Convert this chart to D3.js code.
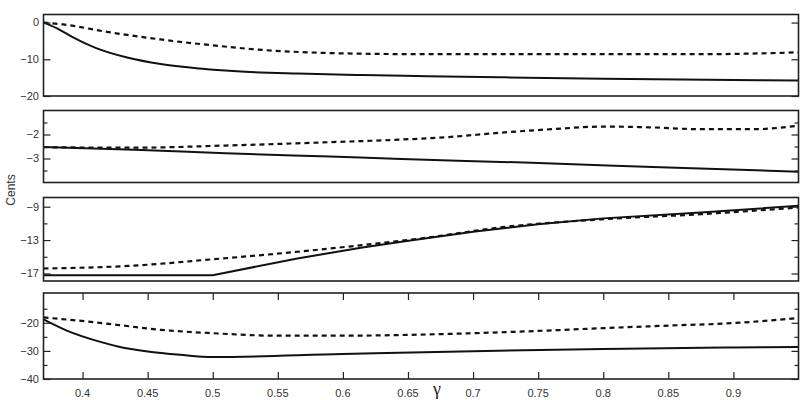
<!DOCTYPE html>
<html><head><meta charset="utf-8">
<script src="https://cdn.jsdelivr.net/npm/d3@7/dist/d3.min.js"></script>
<style>body{margin:0;background:#fff;} svg{display:block;}</style>
</head><body>
<svg id="c" width="808" height="417"></svg>
<script>
// ---- data ----
const xTicks = [0.4,0.45,0.5,0.55,0.6,0.65,0.7,0.75,0.8,0.85,0.9];
const xTickLabels = ["0.4","0.45","0.5","0.55","0.6","0.65","0.7","0.75","0.8","0.85","0.9"];

const p1SolidX = [0.37,0.38,0.392,0.41,0.435,0.46,0.49,0.525,0.565,0.615,0.665,0.72,0.8,0.88,0.95];
const p1SolidY = [0,-1.5,-3.9,-6.9,-9.6,-11.3,-12.5,-13.4,-13.9,-14.3,-14.6,-14.9,-15.3,-15.6,-15.8];
const p1DashX = [0.37,0.385,0.42,0.46,0.5,0.54,0.58,0.62,0.66,0.72,0.8,0.88,0.92,0.95];
const p1DashY = [0,-0.5,-2.6,-4.6,-6.2,-7.5,-8.2,-8.5,-8.6,-8.6,-8.6,-8.6,-8.4,-8.1];

const p2SolidX = [0.37,0.44,0.51,0.59,0.645,0.745,0.85,0.95];
const p2SolidY = [-2.52,-2.64,-2.78,-2.92,-3.02,-3.18,-3.38,-3.55];
const p2DashX = [0.37,0.44,0.51,0.59,0.645,0.68,0.72,0.76,0.8,0.835,0.875,0.915,0.95];
const p2DashY = [-2.53,-2.55,-2.46,-2.32,-2.21,-2.11,-1.93,-1.78,-1.67,-1.70,-1.78,-1.78,-1.63];

const p3SolidX = [0.37,0.5,0.565,0.615,0.645,0.7,0.75,0.8,0.875,0.95];
const p3SolidY = [-17.2,-17.2,-15.2,-13.9,-13.2,-12.0,-11.1,-10.4,-9.7,-8.9];
const p3DashX = [0.37,0.435,0.5,0.565,0.615,0.665,0.72,0.8,0.875,0.95];
const p3DashY = [-16.4,-16.1,-15.3,-14.4,-13.6,-12.7,-11.5,-10.5,-9.9,-9.1];

const p4SolidX = [0.37,0.387,0.413,0.428,0.45,0.475,0.5,0.6,0.7,0.8,0.9,0.95];
const p4SolidY = [-18.8,-22.6,-26.7,-28.5,-30.2,-31.4,-32.2,-31.1,-30.1,-29.3,-28.8,-28.6];
const p4DashX = [0.37,0.413,0.428,0.46,0.5,0.55,0.6,0.65,0.7,0.75,0.8,0.85,0.9,0.95];
const p4DashY = [-18.1,-20,-20.8,-22.5,-23.7,-24.6,-24.6,-24.3,-23.7,-22.9,-21.9,-21,-20.1,-18.3];

const p1Major = [0,-10,-20], p1Labels = ["0","\u221210","\u221220"], p1Minor = [];
const p2Major = [-2,-3], p2Labels = ["\u22122","\u22123"], p2Minor = [-1.5,-2.5,-3.5];
const p3Major = [-9,-13,-17], p3Labels = ["\u22129","\u221213","\u221217"], p3Minor = [-11,-15];
const p4Major = [-20,-30,-40], p4Labels = ["\u221220","\u221230","\u221240"], p4Minor = [-15,-25,-35];

const p1Domain = [-20, 2.2], p2Domain = [-4, -1], p3Domain = [-17.9, -7.9], p4Domain = [-40, -9.4];

// ---- layout ----
const svg = d3.select("#c");
const L = 43.5, R = 798.5;
const x = d3.scaleLinear().domain([0.37, 0.95]).range([L, R]);
const panels = [
  {top:14.5, bot:96, dom:p1Domain, major:p1Major, labels:p1Labels, minor:p1Minor, s:[p1SolidX,p1SolidY], d:[p1DashX,p1DashY], xt:false},
  {top:110.5, bot:182.5, dom:p2Domain, major:p2Major, labels:p2Labels, minor:p2Minor, s:[p2SolidX,p2SolidY], d:[p2DashX,p2DashY], xt:false},
  {top:197.5, bot:281, dom:p3Domain, major:p3Major, labels:p3Labels, minor:p3Minor, s:[p3SolidX,p3SolidY], d:[p3DashX,p3DashY], xt:false, linS:true},
  {top:293, bot:379, dom:p4Domain, major:p4Major, labels:p4Labels, minor:p4Minor, s:[p4SolidX,p4SolidY], d:[p4DashX,p4DashY], xt:true}
];
const fontF = "'Liberation Sans', Arial, Helvetica, sans-serif";
const tc = "#333";

panels.forEach((p, i) => {
  const y = d3.scaleLinear().domain(p.dom).range([p.bot, p.top]);
  const g = svg.append("g");
  const clipId = "clip" + i;
  svg.append("clipPath").attr("id", clipId).append("rect")
    .attr("x", L).attr("y", p.top).attr("width", R - L).attr("height", p.bot - p.top);

  const mk = (xs, ys) => xs.map((v, k) => [v, ys[k]]);
  const lineM = d3.line().x(d => x(d[0])).y(d => y(d[1])).curve(d3.curveMonotoneX);
  const lineL = d3.line().x(d => x(d[0])).y(d => y(d[1]));

  g.append("path").datum(mk(p.d[0], p.d[1])).attr("d", lineM)
    .attr("fill","none").attr("stroke","#111").attr("stroke-width",2.2)
    .attr("stroke-dasharray","5,4").attr("clip-path","url(#"+clipId+")");
  g.append("path").datum(mk(p.s[0], p.s[1])).attr("d", p.linS ? lineL : lineM)
    .attr("fill","none").attr("stroke","#111").attr("stroke-width",2)
    .attr("clip-path","url(#"+clipId+")");

  // y ticks (left & right, inward)
  const yAxL = d3.axisRight(y).tickValues(p.major).tickSize(7).tickFormat("");
  const yAxR = d3.axisLeft(y).tickValues(p.major).tickSize(7).tickFormat("");
  g.append("g").attr("transform","translate("+L+",0)").call(yAxL).call(a=>a.select(".domain").remove());
  g.append("g").attr("transform","translate("+R+",0)").call(yAxR).call(a=>a.select(".domain").remove());
  if (p.minor.length) {
    g.append("g").attr("transform","translate("+L+",0)").call(d3.axisRight(y).tickValues(p.minor).tickSize(4).tickFormat("")).call(a=>a.select(".domain").remove());
    g.append("g").attr("transform","translate("+R+",0)").call(d3.axisLeft(y).tickValues(p.minor).tickSize(4).tickFormat("")).call(a=>a.select(".domain").remove());
  }
  g.selectAll(".tick line").attr("stroke","#222").attr("stroke-width",1.2);

  // y labels
  g.selectAll(".ylab").data(p.major).enter().append("text")
    .attr("x", 39).attr("y", d => y(d)).attr("dy","0.35em")
    .attr("text-anchor","end").attr("font-family",fontF).attr("font-size",11).attr("fill",tc)
    .text((d,k) => p.labels[k]);

  if (p.xt) {
    const xb = d3.axisTop(x).tickValues(xTicks).tickSize(7).tickFormat("");
    const xtp = d3.axisBottom(x).tickValues(xTicks).tickSize(7).tickFormat("");
    const gb = g.append("g").attr("transform","translate(0,"+p.bot+")").call(xb);
    const gt = g.append("g").attr("transform","translate(0,"+p.top+")").call(xtp);
    [gb,gt].forEach(a=>{a.select(".domain").remove(); a.selectAll("line").attr("stroke","#222").attr("stroke-width",1.2);});
    g.selectAll(".xlab").data(xTicks).enter().append("text")
      .attr("x", d => x(d)).attr("y", p.bot + 14).attr("dy","0.35em")
      .attr("text-anchor","middle").attr("font-family",fontF).attr("font-size",11).attr("fill",tc)
      .text((d,k) => xTickLabels[k]);
  }

  // box
  g.append("rect").attr("x", L).attr("y", p.top).attr("width", R - L).attr("height", p.bot - p.top)
    .attr("fill","none").attr("stroke","#222").attr("stroke-width",1.6);
});

svg.append("text").attr("transform","translate(15,190) rotate(-90)")
  .attr("text-anchor","middle").attr("font-family",fontF).attr("font-size",12).attr("fill",tc).text("Cents");
svg.append("text").attr("x",437).attr("y",395).attr("text-anchor","middle")
  .attr("font-family","'Liberation Serif','DejaVu Serif',serif").attr("font-size",18).attr("fill","#222").text("\u03b3");
</script>
</body></html>
